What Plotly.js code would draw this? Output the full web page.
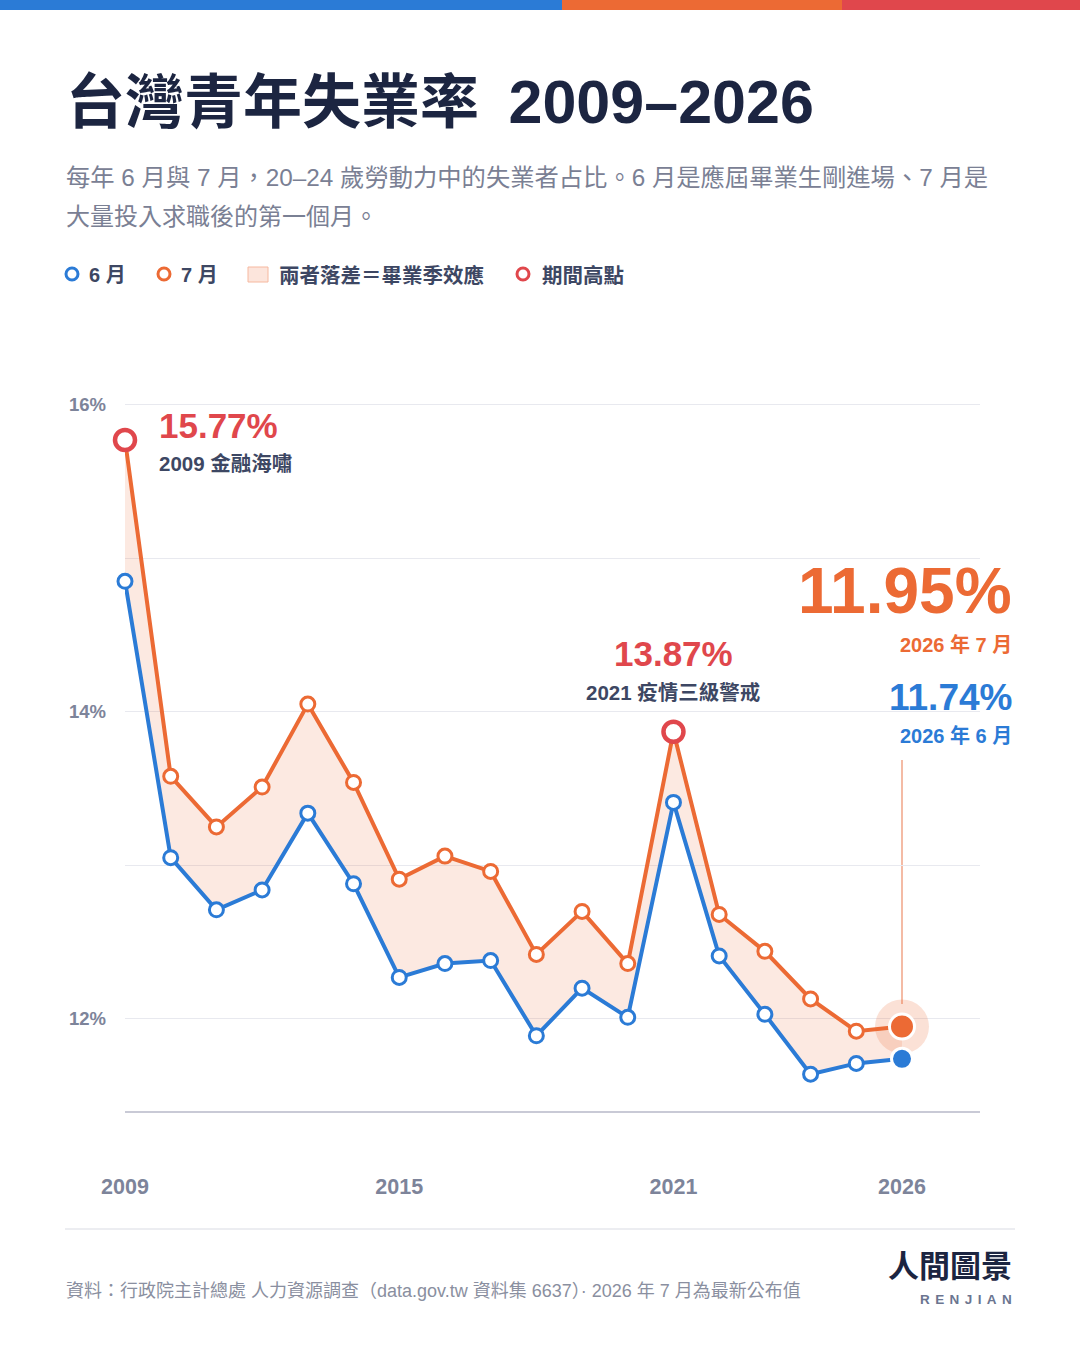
<!DOCTYPE html>
<html>
<head>
<meta charset="utf-8">
<script src="https://cdn.plot.ly/plotly-3.0.1.min.js"></script>
<style>
html,body{margin:0;padding:0;background:#fff;}
#chart{width:1080px;height:1350px;}
</style>
</head>
<body>
<div id="chart"></div>
<script>
// ---------- data ----------
const years = [2009,2010,2011,2012,2013,2014,2015,2016,2017,2018,2019,2020,2021,2022,2023,2024,2025,2026];
const june  = [14.85,13.05,12.71,12.84,13.34,12.88,12.27,12.36,12.38,11.89,12.20,12.01,13.41,12.41,12.03,11.64,11.71,11.74];
const july  = [15.77,13.58,13.25,13.51,14.05,13.54,12.91,13.06,12.96,12.42,12.70,12.36,13.87,12.68,12.44,12.13,11.92,11.95];
const yTickVals = [12,13,14,15,16];
const yTickText = ['12%','','14%','','16%'];
const xTickVals = [2009,2015,2021,2026];
const peakIdx = [0,12];            // 2009, 2021 July highs
const peakNotes = ['2009 金融海嘯','2021 疫情三級警戒'];

// ---------- style ----------
const BLUE='#2b7bd6', ORANGE='#ec6a34', RED='#e0474c', NAVY='#1c2541', SLATE='#3d4763', GREY='#7d849a';
const FONT="'Liberation Sans', 'Noto Sans CJK TC', Arial, sans-serif";
const L=125, R=980, T=374, B=1111, W=1080, H=1350;
const PX = x => (x-L)/(R-L);
const PY = y => (B-y)/(B-T);
const last = years.length-1;

// ---------- traces ----------
const traces = [];
// fill between
traces.push({x:years,y:june,mode:'lines',line:{width:0,color:'rgba(0,0,0,0)'},hoverinfo:'skip',showlegend:false});
traces.push({x:years,y:july,mode:'lines',line:{width:0,color:'rgba(0,0,0,0)'},fill:'tonexty',fillcolor:'rgba(236,106,52,0.15)',hoverinfo:'skip',showlegend:false});
// halo on latest July
traces.push({x:[years[last]],y:[july[last]],mode:'markers',marker:{size:54,opacity:1,color:'rgba(236,106,52,0.2)',line:{width:0}},cliponaxis:false,hoverinfo:'skip',showlegend:false});
// June line
traces.push({x:years,y:june,mode:'lines+markers',line:{color:BLUE,width:4},cliponaxis:false,showlegend:false,
  marker:{opacity:1,size:years.map((_,i)=>i===last?21:14),color:years.map((_,i)=>i===last?BLUE:'#fff'),
          line:{color:years.map((_,i)=>i===last?'#fff':BLUE),width:3}}});
// July line
traces.push({x:years,y:july,mode:'lines+markers',line:{color:ORANGE,width:4},cliponaxis:false,showlegend:false,
  marker:{opacity:1,size:years.map((_,i)=>i===last?25:14),color:years.map((_,i)=>i===last?ORANGE:'#fff'),
          line:{color:years.map((_,i)=>i===last?'#fff':ORANGE),width:3}}});
// peaks
traces.push({x:peakIdx.map(i=>years[i]),y:peakIdx.map(i=>july[i]),mode:'markers',cliponaxis:false,showlegend:false,
  marker:{opacity:1,size:20,color:'#fff',line:{color:RED,width:4.5}}});

// ---------- annotations ----------
const ann = [];
function txt(x,y,text,size,color,xanchor,bold){
  ann.push({xref:'paper',yref:'paper',x:PX(x),y:PY(y),text:bold?'<b>'+text+'</b>':text,showarrow:false,
    xanchor:xanchor||'left',yanchor:'middle',font:{family:FONT,size:size,color:color}});
}
txt(64,102,'台灣青年失業率\u2002<span style="font-size:61px">2009–2026</span>',59,NAVY,'left',true);
txt(64,177,'每年 6 月與 7 月，20–24 歲勞動力中的失業者占比。6 月是應屆畢業生剛進場、7 月是',24.3,'#7a8094','left',false);
txt(64,216,'大量投入求職後的第一個月。',24,'#7a8094','left',false);
// legend
txt(87,275,'6 月',20,SLATE,'left',true);
txt(179,275,'7 月',20,SLATE,'left',true);
txt(277,275,'兩者落差＝畢業季效應',20.5,SLATE,'left',true);
txt(540,275,'期間高點',20.5,SLATE,'left',true);
// peak labels
txt(157,425,july[peakIdx[0]].toFixed(2)+'%',35,RED,'left',true);
txt(157,463,peakNotes[0],20.5,SLATE,'left',true);
txt(673,653,july[peakIdx[1]].toFixed(2)+'%',35,RED,'center',true);
txt(673,692,peakNotes[1],20.5,SLATE,'center',true);
// latest labels
txt(1014,591,july[last].toFixed(2)+'%',64,ORANGE,'right',true);
txt(1014,645,years[last]+' 年 7 月',20,ORANGE,'right',true);
txt(1014,697,june[last].toFixed(2)+'%',37,BLUE,'right',true);
txt(1014,736,years[last]+' 年 6 月',20,BLUE,'right',true);
// footer
txt(64,1291,'資料：行政院主計總處 人力資源調查（data.gov.tw 資料集 6637）· 2026 年 7 月為最新公布值',18,'#8a8fa0','left',false);
txt(1014,1266,'人間圖景',31,NAVY,'right',true);
txt(1014,1299,'RENJIAN'.split('').join('\u2009\u2009'),13.5,'#6b7590','right',true);

// ---------- shapes ----------
const shapes = [];
function rect(x0,y0,x1,y1,fill,line){
  shapes.push({type:'rect',xref:'paper',yref:'paper',x0:PX(x0),x1:PX(x1),y0:PY(y1),y1:PY(y0),fillcolor:fill,line:line||{width:0},layer:'above'});
}
function ring(cx,cy,r,color){
  shapes.push({type:'circle',xref:'paper',yref:'paper',x0:PX(cx-r),x1:PX(cx+r),y0:PY(cy+r),y1:PY(cy-r),fillcolor:'#fff',line:{color:color,width:3},layer:'above'});
}
rect(0,0,562,10,BLUE);
rect(562,0,842,10,ORANGE);
rect(842,0,1080,10,RED);
ring(72,274,6,BLUE);
ring(164,274,6,ORANGE);
rect(248,267,268,282,'#fce5dc',{color:'#f6b89f',width:1});
ring(523,274,6,RED);
// leader line for latest values
shapes.push({type:'line',xref:'x',yref:'paper',x0:years[last],x1:years[last],y0:PY(1004),y1:PY(760),line:{color:'#f0a487',width:1.5},layer:'below'});
// footer rule
shapes.push({type:'line',xref:'paper',yref:'paper',x0:PX(65),x1:PX(1015),y0:PY(1229),y1:PY(1229),line:{color:'#e6e7ec',width:1.5}});

const layout = {
  width:W,height:H,
  margin:{l:L,r:W-R,t:T,b:H-B,pad:0},
  paper_bgcolor:'#fff',plot_bgcolor:'#fff',
  font:{family:FONT},
  showlegend:false,
  xaxis:{range:[2009,2009+(R-L)/((902-125)/17)],tickvals:xTickVals,ticktext:xTickVals.map(String),
    showgrid:false,zeroline:false,showline:true,linecolor:'#c9cad6',linewidth:2,ticks:'',
    ticklabelstandoff:55,tickfont:{family:FONT,size:21.5,color:GREY,weight:700},fixedrange:true},
  yaxis:{range:[11.4,16.2],tickvals:yTickVals,ticktext:yTickText,showgrid:true,gridcolor:'#e8e9ef',gridwidth:1.2,
    zeroline:false,showline:false,ticks:'',ticklabelstandoff:18,
    tickfont:{family:FONT,size:18.5,color:GREY,weight:700},fixedrange:true},
  annotations:ann,
  shapes:shapes
};
Plotly.newPlot('chart',traces,layout,{displayModeBar:false,staticPlot:true});
</script>
</body>
</html>
